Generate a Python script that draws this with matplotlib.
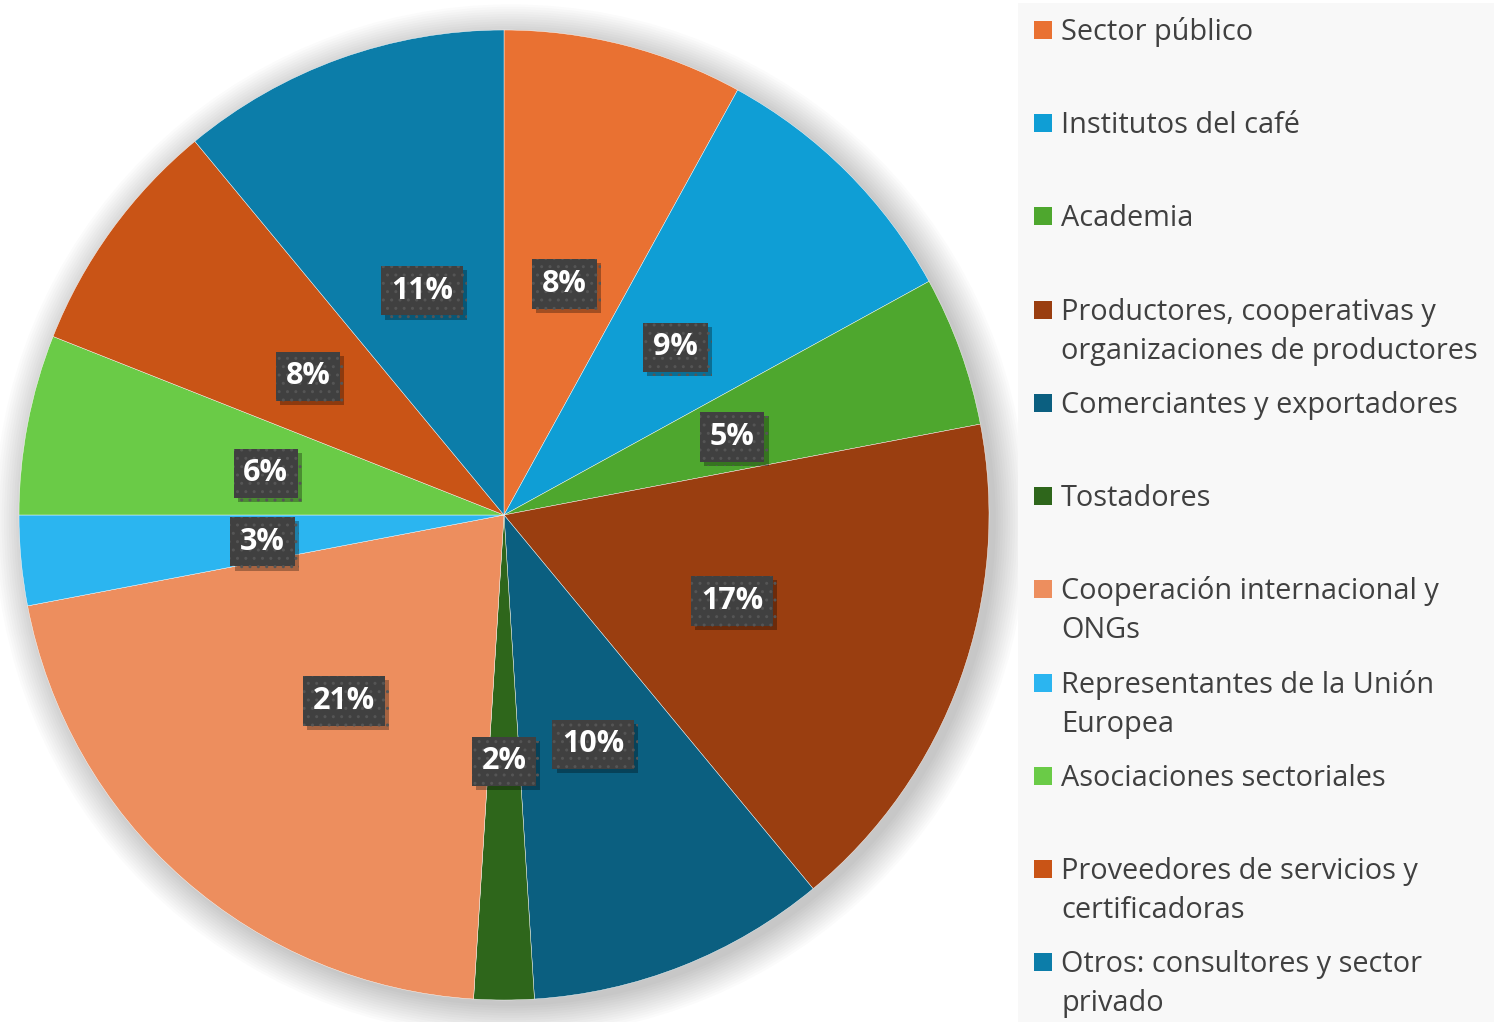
import numpy as np
import matplotlib.pyplot as plt
from matplotlib.patches import Rectangle, Circle
import matplotlib.patheffects as pe

# data, clockwise from 12 o'clock
categories = [
    "Sector público",
    "Institutos del café",
    "Academia",
    "Productores, cooperativas y\norganizaciones de productores",
    "Comerciantes y exportadores",
    "Tostadores",
    "Cooperación internacional y\nONGs",
    "Representantes de la Unión\nEuropea",
    "Asociaciones sectoriales",
    "Proveedores de servicios y\ncertificadoras",
    "Otros: consultores y sector\nprivado",
]
shares = [8, 9, 5, 17, 10, 2, 21, 3, 6, 8, 11]
colors = ["#E97132", "#0F9ED5", "#4EA72E", "#9A3E10", "#0B5F80", "#2E661B",
          "#ED8E5E", "#2BB5F0", "#6ACB47", "#C95416", "#0C7DA9"]

W, H = 1494, 1022
fig = plt.figure(figsize=(W / 100, H / 100), dpi=100)
fig.patch.set_facecolor("white")

# legend panel background
fig.patches.append(Rectangle((1018 / W, 0), (W - 1018) / W, (H - 3) / H,
                             transform=fig.transFigure, facecolor="#F8F8F8",
                             edgecolor="none", zorder=0))

cx, cy, R = 504, 1022 - 515, 485
ax = fig.add_axes([(cx - R) / W, (cy - R) / H, 2 * R / W, 2 * R / H])
ax.set_facecolor("none")

# soft shadow under the pie
for k in range(14):
    ax.add_patch(Circle((0.014, -0.012), 1.0 + 0.005 * k, facecolor="black",
                        alpha=0.016, edgecolor="none", zorder=0, clip_on=False))

wedges, _ = ax.pie(shares, colors=colors, startangle=90, counterclock=False,
                   radius=1.0, wedgeprops=dict(edgecolor="white", linewidth=0.3))
for w in wedges:
    w.set_zorder(2)
    w.set_clip_on(False)

# percentage labels at half radius
theta = 90 - 360 * (np.cumsum(shares) - np.array(shares) / 2) / sum(shares)
for val, th in zip(shares, theta):
    x = 0.5 * np.cos(np.radians(th))
    y = 0.5 * np.sin(np.radians(th)) - 0.008
    t = ax.text(x, y, f"{val}%", ha="center", va="center", fontsize=22,
                fontweight="bold", color="white", family="Open Sans", zorder=4,
                bbox=dict(boxstyle="square,pad=0.32", facecolor="#404040",
                          edgecolor="#555555", linewidth=0, hatch=".."))
    t.get_bbox_patch().set_path_effects([
        pe.SimplePatchShadow(offset=(3, -3), shadow_rgbFace="black", alpha=0.3),
        pe.Normal()])

ax.set_xlim(-1, 1)
ax.set_ylim(-1, 1)
ax.set_aspect("equal")
ax.axis("off")

# manual legend
row_top = [30, 123, 216, 310, 403, 496, 589, 683, 776, 869, 962]
line_gap = 39
for lab, col, yt in zip(categories, colors, row_top):
    fig.patches.append(Rectangle((1034 / W, (H - yt - 9) / H), 18 / W, 18 / H,
                                 transform=fig.transFigure, facecolor=col,
                                 edgecolor="none", zorder=2))
    for i, line in enumerate(lab.split("\n")):
        fig.text(1061 / W, (H - yt - 10 - i * line_gap) / H, line, ha="left",
                 va="baseline", fontsize=20.8, color="#404040", family="Open Sans")

fig.savefig("out.png", dpi=100)
